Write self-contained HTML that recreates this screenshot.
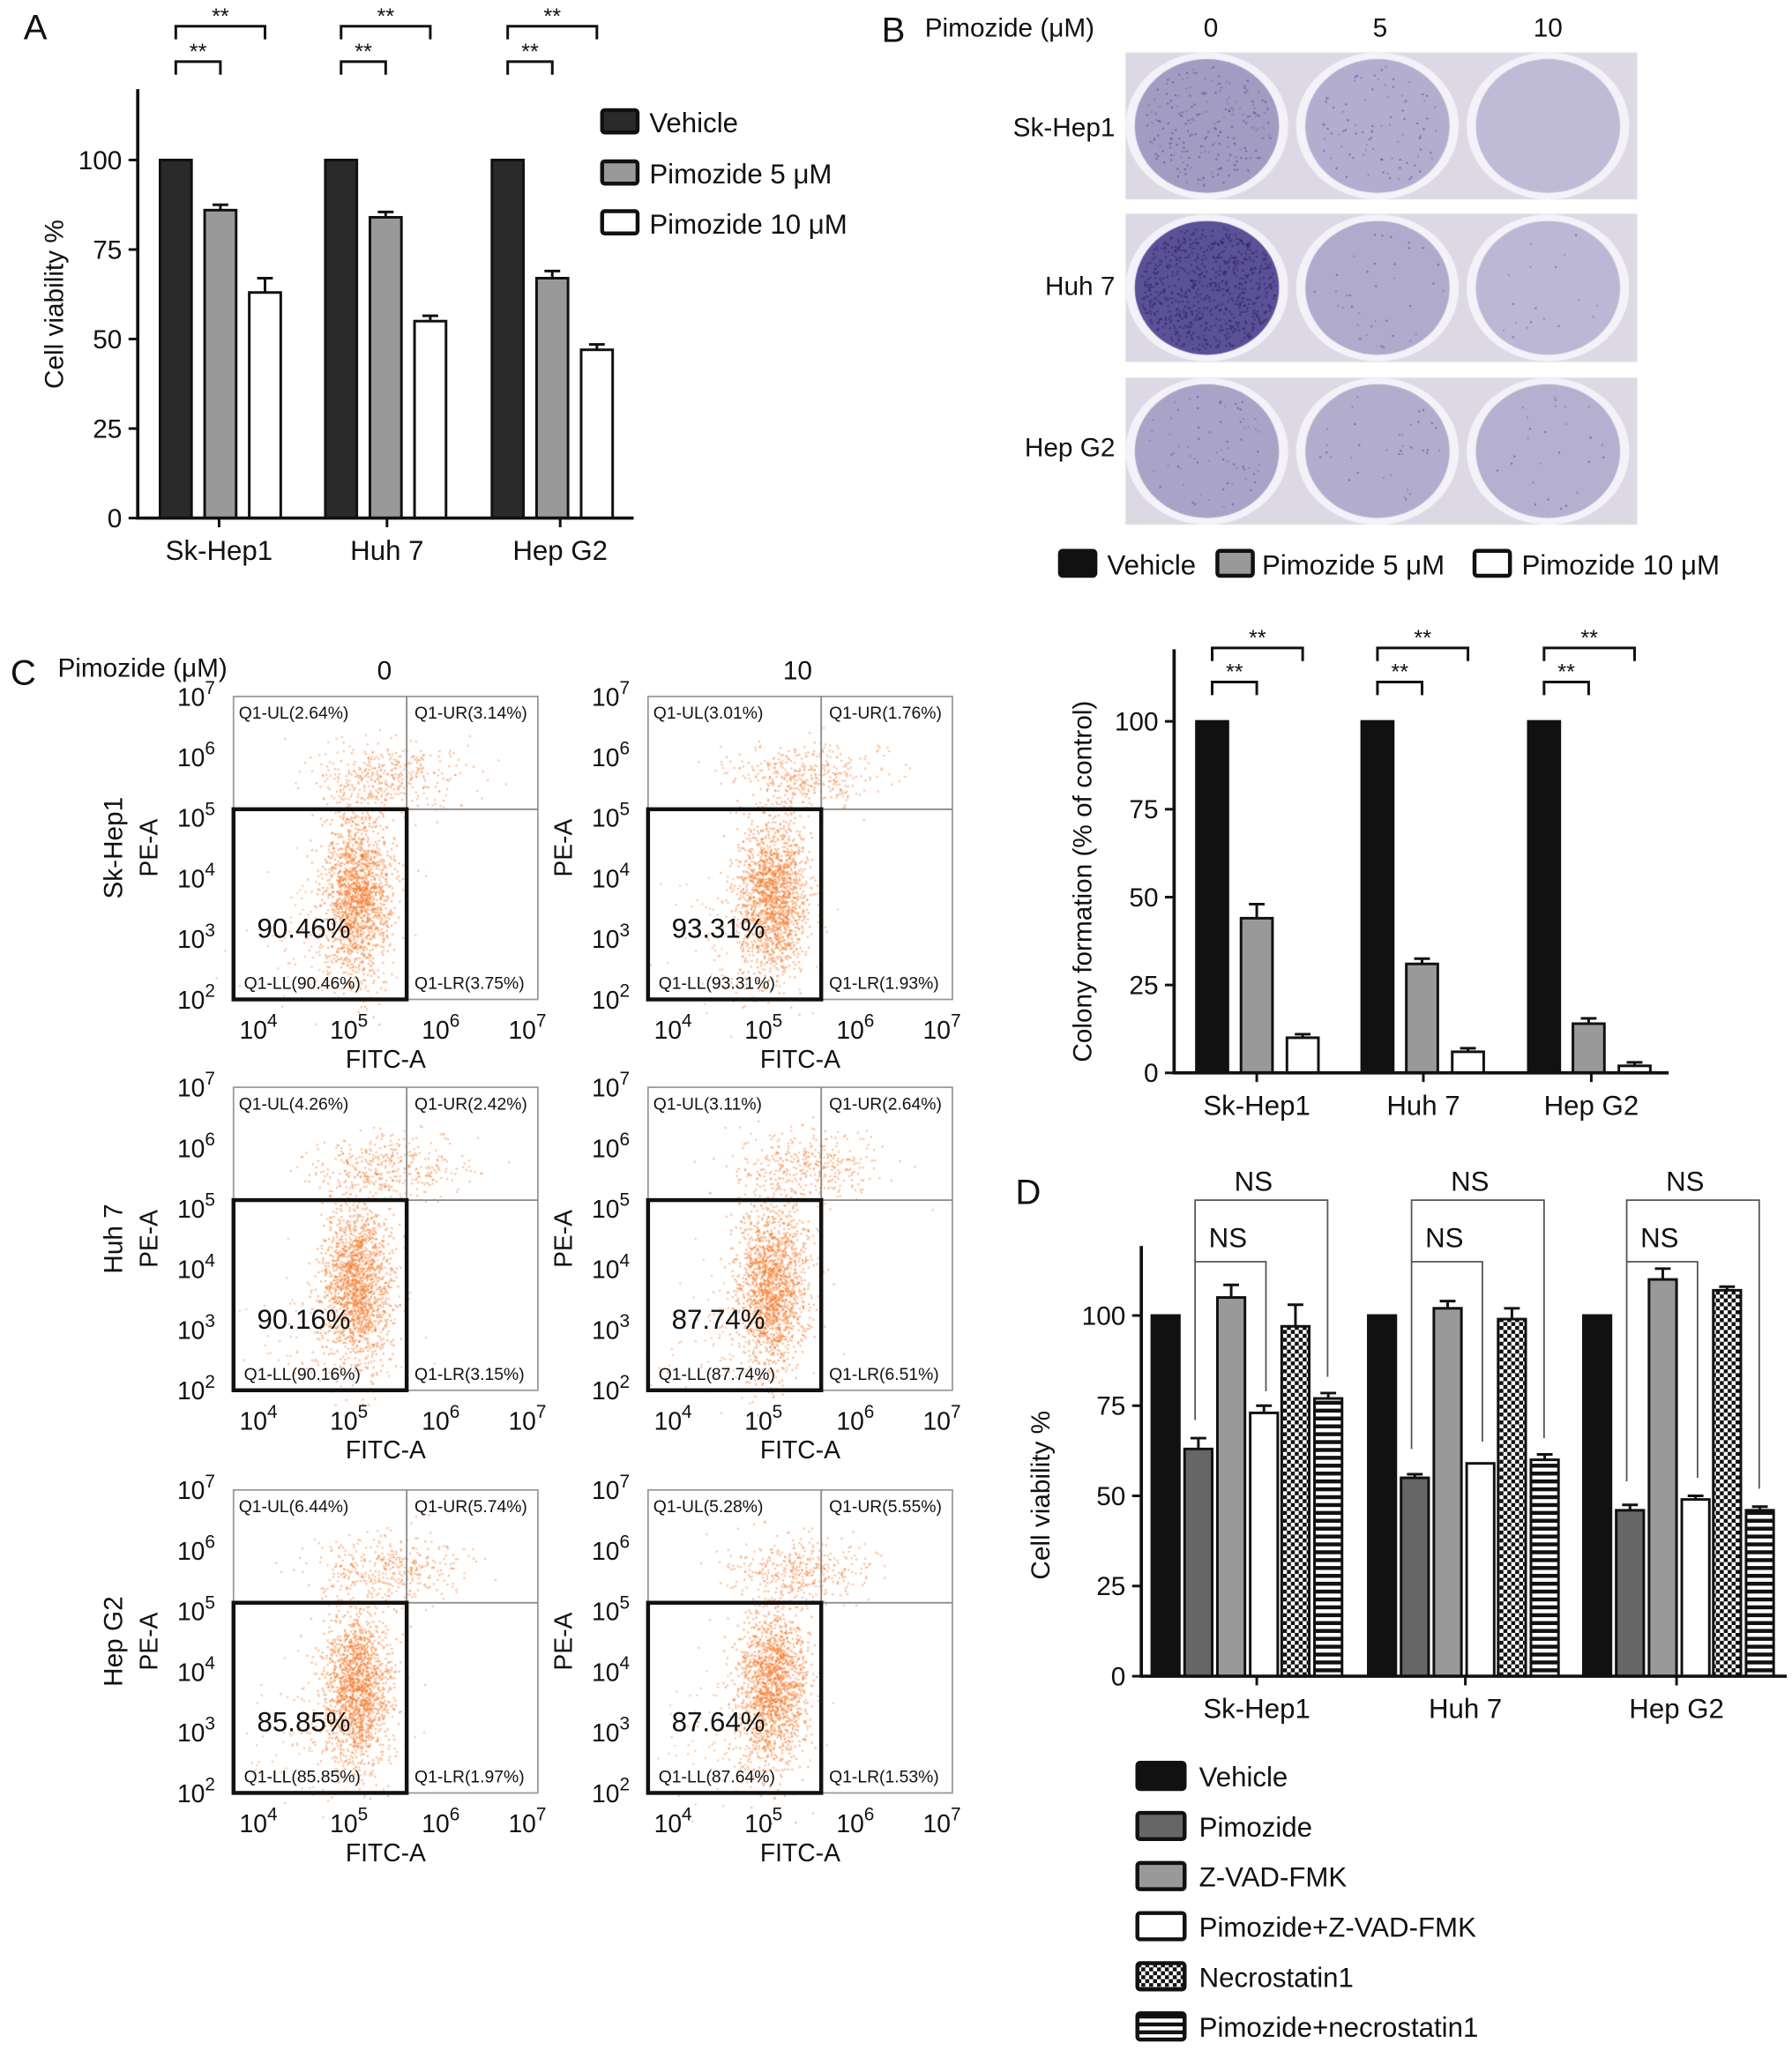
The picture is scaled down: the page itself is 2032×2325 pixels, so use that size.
<!DOCTYPE html>
<html><head><meta charset="utf-8">
<style>
html,body{margin:0;padding:0;background:#fff;}
#wrap{position:relative;width:2032px;height:2325px;overflow:hidden;}
#cv,#s{position:absolute;left:0;top:0;width:2032px;height:2325px;}
text{font-family:"Liberation Sans",Arial,sans-serif;fill:#111;}
</style></head>
<body>
<div id="wrap">
<canvas id="cv" width="2032" height="2325"></canvas>
<svg id="s" viewBox="0 0 1366 1563" preserveAspectRatio="none" xmlns="http://www.w3.org/2000/svg">
<defs>
<pattern id="chk" width="6" height="6" patternUnits="userSpaceOnUse"><rect width="6" height="6" fill="#fff"/><rect width="3" height="3" fill="#111"/><rect x="3" y="3" width="3" height="3" fill="#111"/></pattern>
<pattern id="str" width="6" height="6" patternUnits="userSpaceOnUse"><rect width="6" height="6" fill="#fff"/><rect width="6" height="3" fill="#111"/></pattern>
</defs>
</svg>
</div>
<script>
// ---- Panel A data ----
const aCats=["Sk-Hep1","Huh 7","Hep G2"];
const aVehicle=[100,100,100];
const aPim5=[86,84,67];
const aPim10=[63,55,47];
const aErr5=[1.5,1.5,2];
const aErr10=[4,1.5,1.5];
const aTicks=[0,25,50,75,100];
// ---- Panel B colony data ----
const bCats=["Sk-Hep1","Huh 7","Hep G2"];
const bVehicle=[100,100,100];
const bPim5=[44,31,14];
const bPim10=[10,6,2];
const bErr5=[4,1.5,1.5];
const bErr10=[1,1,1];
const bTicks=[0,25,50,75,100];
// ---- Panel D data ----
const dCats=["Sk-Hep1","Huh 7","Hep G2"];
const dVehicle=[100,100,100];
const dPimozide=[63,55,46];
const dZvad=[105,102,110];
const dPimZvad=[73,59,49];
const dNec=[97,99,107];
const dPimNec=[77,60,46];
const dErrs=[[0,0,0],[3,1,1.5],[3.5,2,3],[2,0,1],[6,3,1],[1.5,1.5,1]];
const dTicks=[0,25,50,75,100];
// ---- Flow cytometry gate stats ----
const flowRows=["Sk-Hep1","Huh 7","Hep G2"];
const flowUL=[["2.64%","3.01%"],["4.26%","3.11%"],["6.44%","5.28%"]];
const flowUR=[["3.14%","1.76%"],["2.42%","2.64%"],["5.74%","5.55%"]];
const flowLL=[["90.46%","93.31%"],["90.16%","87.74%"],["85.85%","87.64%"]];
const flowLR=[["3.75%","1.93%"],["3.15%","6.51%"],["1.97%","1.53%"]];

const S=document.getElementById('s');
const NS="http://www.w3.org/2000/svg";
function mk(tag,at,par){const e=document.createElementNS(NS,tag);for(const k in at)e.setAttribute(k,at[k]);(par||S).appendChild(e);return e;}
function txt(x,y,s,size,anchor,par,extra){const e=mk('text',Object.assign({x:x,y:y,'font-size':size,'text-anchor':anchor||'start'},extra||{}),par);e.textContent=s;return e;}

[["A",18,30],["B",672,32],["C",8,522],["D",774,918]].forEach(p=>{
  const t=txt(p[1],p[2],p[0],27,'start');
  
  
});

function barChart(o){
  const g=mk('g',{});
  
  
  const y=v=>o.y0-v*(o.y0-o.y100)/100;
  o.series.forEach((ser,si)=>{
    ser.vals.forEach((v,gi)=>{
      const x=o.starts[gi]+o.offs[si];
      if(ser.err){const ev=ser.err[gi];if(ev>0){
        const l=mk('line',{x1:x+o.w/2,x2:x+o.w/2,y1:y(v),y2:y(v+ev),stroke:'#111','stroke-width':2},g);
        
        
        const c=mk('line',{x1:x+o.w/2-6,x2:x+o.w/2+6,y1:y(v+ev),y2:y(v+ev),stroke:'#111','stroke-width':2},g);
        
        }}
      const r=mk('rect',{x:x,y:y(v),width:o.w,height:y(0)-y(v),fill:ser.fill,stroke:'#111','stroke-width':2},g);
      
      
    });
  });
  const ax=mk('path',{d:`M${o.x0} ${o.yTop} V${o.y0} H${o.x1}`,stroke:'#111','stroke-width':2.5,fill:'none'},g);
  
  
  o.ticks.forEach(t=>{
    mk('line',{x1:o.x0-7,x2:o.x0,y1:y(t),y2:y(t),stroke:'#111','stroke-width':2},g);
    const tl=txt(o.x0-12,y(t)+7,String(t),20,'end',g);
    
    
  });
  o.cats.forEach((c,gi)=>{
    const cx=o.labelX[gi];
    mk('line',{x1:cx,x2:cx,y1:o.y0,y2:o.y0+7,stroke:'#111','stroke-width':2},g);
    const tl=txt(cx,o.y0+32,c,21,'middle',g);
    
    
  });
  const yt=txt(0,0,o.ytitle,20,'middle',g,{transform:`translate(${o.ytx},${o.yty}) rotate(-90)`});
  
  
  return {g,y};
}

function stars(g,x1,x2,yb,label){
  const p=mk('path',{d:`M${x1} ${yb+10} V${yb} H${x2} V${yb+10}`,stroke:'#111','stroke-width':2,fill:'none'},g);
  
  
  const t=txt((x1+x2)/2,yb-2,label,17,'middle',g);
  
  
}

(function(){
  const o={name:'panel-a-chart',x0:105,x1:483,y0:395,y100:122,yTop:68,starts:[122,248,375],offs:[0,34,68],w:24,
    series:[{key:'vehicle',vals:aVehicle,fill:'#2a2a2a'},{key:'pim5',vals:aPim5,err:aErr5,fill:'#999'},{key:'pim10',vals:aPim10,err:aErr10,fill:'#fff'}],
    ticks:aTicks,cats:aCats,labelX:[167,295,427],ytitle:'Cell viability %',ytx:48,yty:232};
  const c=barChart(o);
  o.starts.forEach(s=>{stars(c.g,s+12,s+o.offs[1]+12,47,'**');stars(c.g,s+12,s+o.offs[2]+12,20,'**');});
  const leg=[['Vehicle','#2a2a2a',93],['Pimozide 5 μM','#999',132],['Pimozide 10 μM','#fff',170]];
  leg.forEach(l=>{
    const r=mk('rect',{x:459,y:l[2]-9,width:27,height:17,fill:l[1],stroke:'#111','stroke-width':3,rx:2});
    
    
    const t=txt(495,l[2]+8,l[0],21,'start');
    
    
  });
})();

(function(){
  const t0=txt(705,28,'Pimozide (μM)',20,'start');
  
  
  [['0',923],['5',1052],['10',1180]].forEach(d=>{const t=txt(d[1],28,d[0],20,'middle');
    
    });
  [['Sk-Hep1',104],['Huh 7',225],['Hep G2',348]].forEach(d=>{const t=txt(850,d[1],d[0],20,'end');
    
    });
  const leg=[['Vehicle','#111',808,844],['Pimozide 5 μM','#999',928,962],['Pimozide 10 μM','#fff',1124,1160]];
  leg.forEach(l=>{
    const r=mk('rect',{x:l[2],y:420,width:27,height:19,fill:l[1],stroke:'#111','stroke-width':3,rx:2});
    
    
    const t=txt(l[3],438,l[0],21,'start');
    
    
  });
})();

(function(){
  const o={name:'colony-chart',x0:895,x1:1272,y0:818,y100:550,yTop:495,starts:[912,1038,1165],offs:[0,34,69],w:24,
    series:[{key:'vehicle',vals:bVehicle,fill:'#111'},{key:'pim5',vals:bPim5,err:bErr5,fill:'#999'},{key:'pim10',vals:bPim10,err:bErr10,fill:'#fff'}],
    ticks:bTicks,cats:bCats,labelX:[958,1085,1213],ytitle:'Colony formation (% of control)',ytx:832,yty:672};
  const c=barChart(o);
  o.starts.forEach(s=>{stars(c.g,s+12,s+o.offs[1]+12,520,'**');stars(c.g,s+12,s+o.offs[2]+12,494,'**');});
})();

(function(){
  const series=[{key:'vehicle',vals:dVehicle,fill:'#111'},{key:'pimozide',vals:dPimozide,fill:'#666'},{key:'zvad',vals:dZvad,fill:'#999'},
    {key:'pim-zvad',vals:dPimZvad,fill:'#fff'},{key:'necrostatin',vals:dNec,fill:'url(#chk)'},{key:'pim-nec',vals:dPimNec,fill:'url(#str)'}];
  series.forEach((s,i)=>s.err=dErrs[i]);
  const o={name:'panel-d-chart',x0:870,x1:1362,y0:1278,y100:1003,yTop:950,starts:[878,1043,1207],offs:[0,25,50,75,99,124],w:21,
    series:series,ticks:dTicks,cats:dCats,labelX:[958,1117,1278],ytitle:'Cell viability %',ytx:800,yty:1140};
  const c=barChart(o);
  o.starts.forEach((s,gi)=>{
    const xa=s+o.offs[1]+8, xb=s+o.offs[3]+12, xc=s+o.offs[5]+10;
    const p1=mk('path',{d:`M${xa} ${c.y(dPimozide[gi]+8)} V962 H${xb} V${c.y(dPimZvad[gi]+6)}`,stroke:'#555','stroke-width':1.2,fill:'none'},c.g);
    
    
    const p2=mk('path',{d:`M${xa} 962 V915 H${xc} V${c.y(dPimNec[gi]+6)}`,stroke:'#555','stroke-width':1.2,fill:'none'},c.g);
    
    
    const t1=txt((xa+xb)/2-2,951,'NS',21,'middle',c.g);
    
    
    const t2=txt((xa+xc)/2-6,908,'NS',21,'middle',c.g);
    
    
  });
  const names=['Vehicle','Pimozide','Z-VAD-FMK','Pimozide+Z-VAD-FMK','Necrostatin1','Pimozide+necrostatin1'];
  names.forEach((n,i)=>{
    const yy=1354+i*38.2;
    const r=mk('rect',{x:867,y:yy-10,width:36,height:20,fill:series[i].fill,stroke:'#111','stroke-width':3,rx:2});
    
    
    const t=txt(914,yy+8,n,21,'start');
    
    
  });
})();

const plotX=[178,494], plotY=[531,829,1136], PW=232, PH=231;
(function(){
  const t=txt(44,516,'Pimozide (μM)',20,'start');
  
  
  [['0',293],['10',608]].forEach(d=>{const e=txt(d[1],518,d[0],20,'middle');
    
    });
  plotY.forEach((py,ri)=>{
    const rl=txt(0,0,flowRows[ri],20,'middle',S,{transform:`translate(93,${py+PH/2}) rotate(-90)`});
    
    
    plotX.forEach((px,ci)=>{
      const g=mk('g',{});
      
      
      const qx=px+132, qy=py+86;
      mk('rect',{x:px,y:py,width:PW,height:PH,fill:'none',stroke:'#999','stroke-width':1.2},g);
      mk('line',{x1:qx,x2:qx,y1:py,y2:py+PH,stroke:'#888','stroke-width':1.2},g);
      mk('line',{x1:px,x2:px+PW,y1:qy,y2:qy,stroke:'#888','stroke-width':1.2},g);
      const gate=mk('rect',{x:px,y:qy,width:qx-px,height:py+PH-qy,fill:'none',stroke:'#111','stroke-width':3},g);
      
      
      const q=[['Q1-UL('+flowUL[ri][ci]+')',px+4,py+17],['Q1-UR('+flowUR[ri][ci]+')',qx+6,py+17],
               ['Q1-LL('+flowLL[ri][ci]+')',px+8,py+PH-8],['Q1-LR('+flowLR[ri][ci]+')',qx+6,py+PH-8]];
      q.forEach(a=>{const e=txt(a[1],a[2],a[0],13,'start',g);
        
        });
      const big=txt(px+18,py+PH-47,flowLL[ri][ci],21,'start',g);
      
      
      for(let k=2;k<=7;k++){
        const yy=py+PH-(k-2)*PH/5;
        const e=txt(px-14,yy+7,'10',19,'end',g);
        const sp=mk('tspan',{dy:-9,'font-size':14},e);sp.textContent=k;
        
        
      }
      [[4,25],[5,94],[6,164],[7,230]].forEach(a=>{
        const e=txt(px+a[1]-6,py+PH+30,'10',19,'middle',g);
        const sp=mk('tspan',{dy:-9,'font-size':14},e);sp.textContent=a[0];
        
        
      });
      const xt=txt(px+116,py+PH+52,'FITC-A',19,'middle',g);
      
      
      const yt=txt(0,0,'PE-A',19,'middle',g,{transform:`translate(${px-58},${py+PH/2}) rotate(-90)`});
      
      
    });
  });
})();

(function(){
  const cv=document.getElementById('cv'),c=cv.getContext('2d');
  c.scale(2032/1366,2325/1563);
  let seed=12345;const rnd=()=>{seed=(seed*16807)%2147483647;return seed/2147483647;};
  const gauss=()=>{let u=rnd()||1e-9,v=rnd();return Math.sqrt(-2*Math.log(u))*Math.cos(2*Math.PI*v);};
  const rows=[[40,152],[163,276],[288,400]];
  const dens=[[0.25,0.1,0.0],[0.0,0.04,0.02],[0.08,0.04,0.03]];
  const bases=[['#a29cc2','#b3aecf','#bfbbd6'],['#5b5196','#b0abcc','#bcb7d4'],['#a9a4c7','#b2adcd','#b5b0cf']];
  rows.forEach((r,ri)=>{
    c.fillStyle='#dcd9e4';c.fillRect(858,r[0],390,r[1]-r[0]);
    [920,1050,1180].forEach((cx,ci)=>{
      const cy=(r[0]+r[1])/2;
      c.beginPath();c.ellipse(cx,cy,62,56,0,0,Math.PI*2);c.fillStyle='#f4f2f8';c.fill();
      c.beginPath();c.ellipse(cx,cy,55,51,0,0,Math.PI*2);c.fillStyle=bases[ri][ci];c.fill();
      const n=Math.floor(dens[ri][ci]*900);
      for(let i=0;i<n;i++){const a=rnd()*Math.PI*2,d=Math.sqrt(rnd());
        c.fillStyle=rnd()<0.5?'rgba(70,60,130,0.7)':'rgba(110,100,160,0.6)';
        c.fillRect(cx+Math.cos(a)*d*50,cy+Math.sin(a)*d*46,1.2,1.2);}
      if(ri==1&&ci==0){for(let i=0;i<700;i++){const a=rnd()*Math.PI*2,d=Math.sqrt(rnd());
        c.fillStyle='rgba(40,30,100,0.6)';c.fillRect(cx+Math.cos(a)*d*52,cy+Math.sin(a)*d*48,1.4,1.4);}}
    });
  });
  c.fillStyle='rgba(245,120,40,0.5)';
  plotY.forEach(py=>{plotX.forEach(px=>{
    const qx=px+132,qy=py+86;
    for(let i=0;i<1600;i++){
      c.fillRect(qx-38+gauss()*13,py+150+gauss()*30,1.5,1.5);
    }
    for(let i=0;i<400;i++){
      c.fillRect(qx-15+gauss()*28,qy-25+gauss()*13,1.4,1.4);
    }
    for(let i=0;i<150;i++){
      c.fillRect(qx-60+gauss()*28,py+185+gauss()*25,1.3,1.3);
    }
  });});
})();
</script>
</body></html>
